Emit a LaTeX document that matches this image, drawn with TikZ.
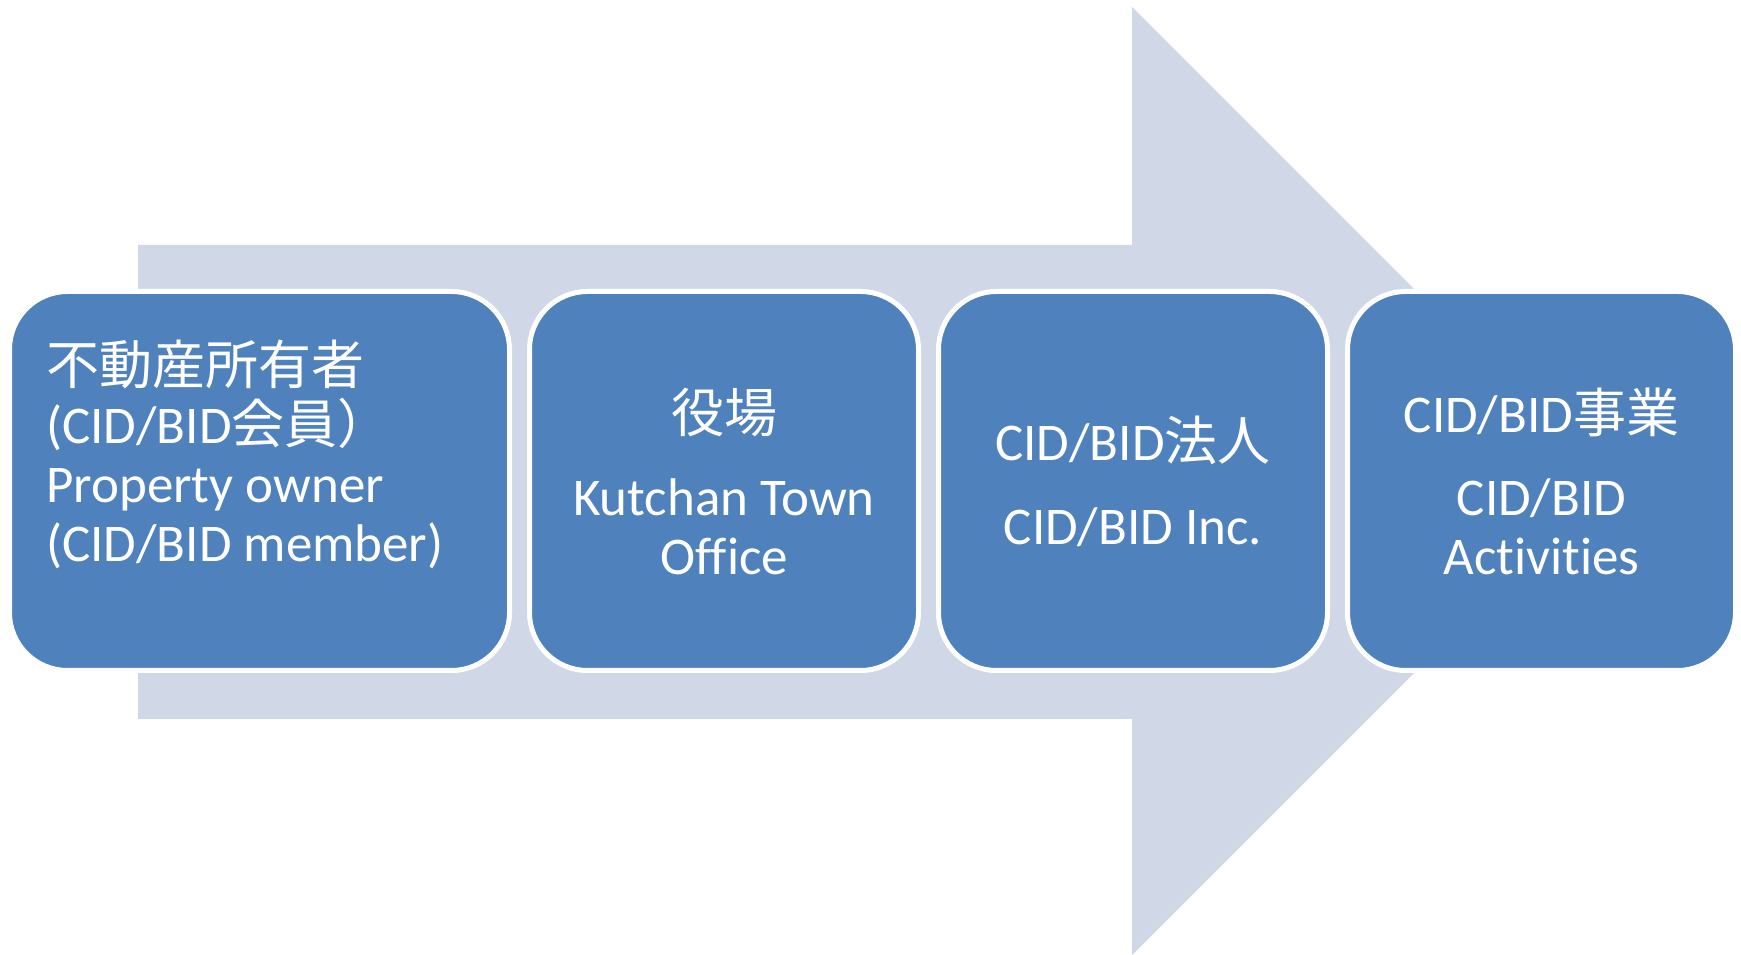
\documentclass[tikz,border=0pt]{standalone}
\usepackage{fontspec}
\setmainfont{Carlito}[Ligatures={NoCommon}]
\newfontfamily\jpfont{Noto Sans CJK JP}
\usetikzlibrary{positioning}
\definecolor{stepblue}{RGB}{79,129,189}
\definecolor{arrowfill}{RGB}{208,216,232}
\tikzstyle{every stage} = [font=\fontsize{53}{59}\selectfont, text=white]
\tikzstyle{stage} = [draw=white, line width=5pt, fill=stepblue, rounded corners=58pt,
                     minimum height=379pt, inner sep=0pt, align=center, every stage]
\tikzstyle{stagetext} = [inner sep=0pt, align=left, every stage]

\begin{document}
\begin{tikzpicture}[x=1pt,y=1pt]
                    \useasboundingbox (0,0) rectangle (1741,955);
                    % big arrow behind the steps
                    \fill[arrowfill] (138,710) -- (1132,710) -- (1132,948) -- (1606,474)
                          -- (1132,0) -- (1132,236) -- (138,236) -- cycle;

                    \node[stage, minimum width=500pt] (owner) at (259.5,474) {};
                    \node[stagetext, anchor=west] (ownertext) at (46,501)
                          {{\jpfont 不動産所有者}\\(CID/BID{\jpfont 会員）}\\Property owner\\(CID/BID member)};
                    \node[stage, minimum width=389pt] (office) at (724,474)
                          {{\jpfont 役場}\\[24pt]Kutchan Town\\Office};
                    \node[stage, minimum width=389pt] (inc) at (1133,474)
                          {CID/BID{\jpfont 法人}\\[25pt]CID/BID Inc.};
                    \node[stage, minimum width=388pt] (activities) at (1541.5,474)
                          {CID/BID{\jpfont 事業}\\[24pt]CID/BID\\Activities};
                \end{tikzpicture}
\end{document}
